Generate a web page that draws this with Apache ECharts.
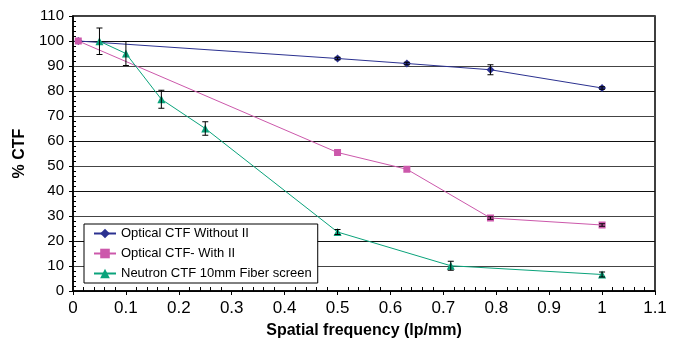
<!DOCTYPE html>
<html>
<head>
<meta charset="utf-8">
<script src="https://cdn.jsdelivr.net/npm/echarts@6/dist/echarts.min.js"></script>
<style>html,body{margin:0;padding:0;background:#fff}#c{width:677px;height:339px}</style>
</head>
<body>
<div id="c"></div>
<script>
const seriesNames = ['Optical CTF Without II', 'Optical CTF- With II', 'Neutron CTF 10mm Fiber screen'];

const blueX = [0.01, 0.5, 0.631, 0.789, 1.0];
const blueY = [100, 93.0, 91.0, 88.5, 81.2];
const blueErr = [0, 0.5, 0.5, 2.0, 0.5];

const pinkX = [0.01, 0.5, 0.631, 0.789, 1.0];
const pinkY = [100, 55.4, 48.7, 29.2, 26.4];
const pinkErr = [0, 0, 0, 0.5, 0.5];

const greenX = [0.05, 0.1, 0.167, 0.25, 0.5, 0.714, 1.0];
const greenY = [99.9, 95.0, 76.7, 65.0, 23.6, 10.1, 6.6];
const greenErr = [5.3, 4.8, 3.6, 2.7, 1.0, 1.8, 1.0];

const xTicks = { min: 0, max: 1.1, interval: 0.1 };
const yTicks = { min: 0, max: 110, interval: 10 };

const colors = ['#2b3190', '#cc58ab', '#0aa37b'];
const FONT = 'Liberation Sans';

function pairs(xs, ys) { return xs.map((x, i) => [x, ys[i]]); }
function errData(xs, ys, es) {
  return xs.map((x, i) => [x, ys[i], es[i]]).filter(d => d[2] > 0);
}
function errRender(params, api) {
  const x = api.value(0), y = api.value(1), e = api.value(2);
  const hi = api.coord([x, y + e]);
  const lo = api.coord([x, y - e]);
  const cw = 3;
  const st = { stroke: '#000', lineWidth: 1 };
  return {
    type: 'group',
    children: [
      { type: 'line', shape: { x1: hi[0], y1: hi[1], x2: lo[0], y2: lo[1] }, style: st },
      { type: 'line', shape: { x1: hi[0] - cw, y1: hi[1], x2: hi[0] + cw, y2: hi[1] }, style: st },
      { type: 'line', shape: { x1: lo[0] - cw, y1: lo[1], x2: lo[0] + cw, y2: lo[1] }, style: st }
    ]
  };
}

const chart = echarts.init(document.getElementById('c'), null, { renderer: 'canvas' });

chart.setOption({
  animation: false,
  backgroundColor: '#fff',
  grid: { left: 73, right: 22, top: 16, bottom: 48, outerBoundsMode: 'none', containLabel: false,
    show: true, borderColor: '#000', borderWidth: 1.5, backgroundColor: 'transparent' },
  legend: {
    orient: 'vertical',
    left: 84, top: 224,
    padding: [3, 6, 3, 9],
    itemWidth: 22, itemHeight: 12, itemGap: 7,
    borderColor: '#000', borderWidth: 1, backgroundColor: '#fff',
    textStyle: { fontFamily: FONT, fontSize: 13, color: '#000' },
    data: seriesNames
  },
  xAxis: [{
    type: 'value', min: xTicks.min, max: xTicks.max, interval: xTicks.interval,
    name: 'Spatial frequency (lp/mm)', nameLocation: 'middle', nameGap: 32,
    nameTextStyle: { fontFamily: FONT, fontSize: 16, fontWeight: 'bold', color: '#000' },
    axisLine: { show: true, lineStyle: { color: '#000', width: 1.5 } },
    axisTick: { show: true, length: 4, lineStyle: { color: '#000' } },
    axisLabel: { margin: 9, fontFamily: FONT, fontSize: 17, color: '#000' },
    splitLine: { show: false }
  }, {
    type: 'value', min: xTicks.min, max: xTicks.max, interval: xTicks.interval, position: 'bottom',
    axisLine: { show: false }, axisLabel: { show: false },
    axisTick: { show: false, inside: true },
    minorTick: { show: true, splitNumber: 5, length: 4, lineStyle: { color: '#000' } },
    splitLine: { show: false }
  }],
  yAxis: [{
    type: 'value', min: yTicks.min, max: yTicks.max, interval: yTicks.interval,
    name: '% CTF', nameLocation: 'middle', nameGap: 42,
    nameTextStyle: { fontFamily: FONT, fontSize: 16, fontWeight: 'bold', color: '#000' },
    axisLine: { show: true, lineStyle: { color: '#000', width: 1.5 } },
    axisTick: { show: true, length: 4, lineStyle: { color: '#000' } },
    axisLabel: { margin: 9, fontFamily: FONT, fontSize: 15, color: '#000' },
    splitLine: { show: true, lineStyle: { color: ['#111', '#444'], width: 1 } }
  }, {
    type: 'value', min: yTicks.min, max: yTicks.max, interval: yTicks.interval, position: 'left',
    axisLine: { show: false }, axisLabel: { show: false },
    axisTick: { show: false, inside: true },
    minorTick: { show: true, splitNumber: 5, length: 3, lineStyle: { color: '#000' } },
    splitLine: { show: false }
  }],
  series: [
    { name: seriesNames[0], type: 'line', data: pairs(blueX, blueY), symbol: 'diamond', symbolSize: 8,
      itemStyle: { color: colors[0] }, lineStyle: { color: colors[0], width: 1 }, z: 3 },
    { name: seriesNames[1], type: 'line', data: pairs(pinkX, pinkY), symbol: 'rect', symbolSize: 7,
      itemStyle: { color: colors[1] }, lineStyle: { color: colors[1], width: 1 }, z: 4 },
    { name: seriesNames[2], type: 'line', data: pairs(greenX, greenY), symbol: 'triangle', symbolSize: 8,
      itemStyle: { color: colors[2] }, lineStyle: { color: colors[2], width: 1 }, z: 5 },
    { type: 'custom', data: errData(blueX, blueY, blueErr), renderItem: errRender, z: 6, silent: true },
    { type: 'custom', data: errData(pinkX, pinkY, pinkErr), renderItem: errRender, z: 6, silent: true },
    { type: 'custom', data: errData(greenX, greenY, greenErr), renderItem: errRender, z: 6, silent: true }
  ]
});
</script>
</body>
</html>
